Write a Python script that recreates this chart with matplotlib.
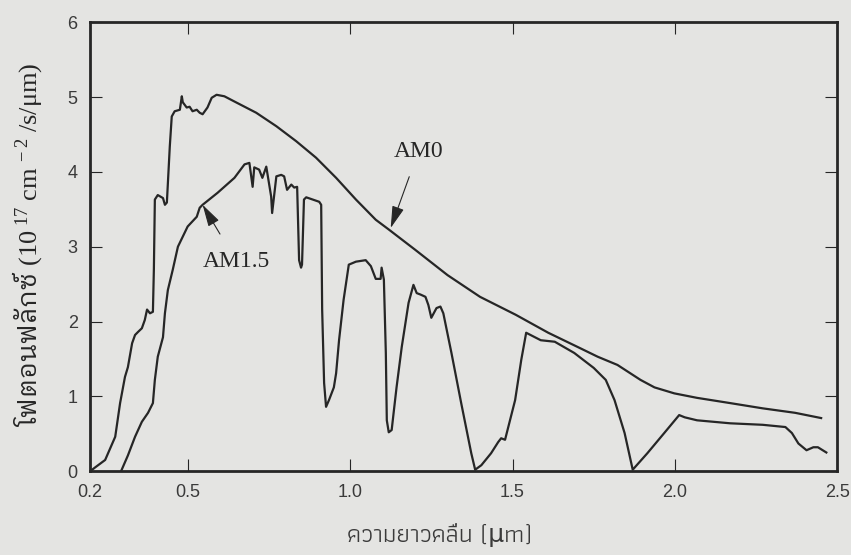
import matplotlib
matplotlib.use('Agg')
import matplotlib.pyplot as plt

# wavelength (um) / photon flux (1e17 cm^-2 s^-1 um^-1)
am0_x = [0.20, 0.215, 0.246, 0.277, 0.292, 0.307, 0.316, 0.329, 0.338, 0.347, 0.359, 0.368,
         0.375, 0.384, 0.393, 0.396, 0.399, 0.408, 0.424, 0.430, 0.436, 0.445, 0.451, 0.460,
         0.476, 0.482, 0.485, 0.497, 0.506, 0.515, 0.528, 0.537, 0.546, 0.561, 0.574, 0.589,
         0.613, 0.644, 0.711, 0.773, 0.834, 0.895, 0.957, 1.018, 1.079, 1.119, 1.20, 1.30,
         1.40, 1.51, 1.61, 1.71, 1.762, 1.823, 1.894, 1.937, 1.998, 2.068, 2.17, 2.27, 2.37, 2.45]
am0_y = [0.0, 0.05, 0.15, 0.46, 0.91, 1.26, 1.39, 1.71, 1.82, 1.86, 1.91, 2.02,
         2.16, 2.11, 2.13, 2.70, 3.63, 3.69, 3.65, 3.56, 3.59, 4.34, 4.74, 4.81,
         4.83, 5.01, 4.93, 4.86, 4.87, 4.81, 4.83, 4.79, 4.77, 4.86, 4.99, 5.03,
         5.01, 4.94, 4.79, 4.61, 4.41, 4.19, 3.92, 3.63, 3.36, 3.23, 2.96, 2.62,
         2.33, 2.09, 1.85, 1.64, 1.53, 1.42, 1.22, 1.12, 1.04, 0.98, 0.91, 0.84, 0.78, 0.71]

am15_x = [0.295, 0.30, 0.316, 0.338, 0.359, 0.378, 0.393, 0.399, 0.408, 0.424, 0.430, 0.439,
          0.454, 0.47, 0.50, 0.528, 0.537, 0.546, 0.592, 0.644, 0.675, 0.69, 0.70, 0.705,
          0.72, 0.73, 0.742, 0.757, 0.76, 0.773, 0.788, 0.797, 0.806, 0.819, 0.828, 0.837,
          0.843, 0.849, 0.852, 0.858, 0.865, 0.905, 0.911, 0.914, 0.92, 0.926, 0.935, 0.95,
          0.957, 0.966, 0.98, 0.996, 1.018, 1.048, 1.064, 1.079, 1.094, 1.097, 1.104, 1.11,
          1.113, 1.119, 1.128, 1.134, 1.143, 1.159, 1.18, 1.195, 1.205, 1.217, 1.232, 1.241,
          1.25, 1.266, 1.278, 1.287, 1.312, 1.342, 1.373, 1.385, 1.404, 1.434, 1.456, 1.465,
          1.477, 1.508, 1.527, 1.542, 1.569, 1.587, 1.63, 1.69, 1.75, 1.787, 1.814, 1.845,
          1.87, 1.915, 1.967, 2.013, 2.03, 2.068, 2.17, 2.27, 2.34, 2.36, 2.38, 2.405,
          2.426, 2.44, 2.466]
am15_y = [0.0, 0.05, 0.21, 0.46, 0.66, 0.78, 0.91, 1.22, 1.53, 1.79, 2.11, 2.42,
          2.69, 3.00, 3.27, 3.40, 3.52, 3.56, 3.72, 3.92, 4.10, 4.12, 3.80, 4.06,
          4.03, 3.92, 4.07, 3.67, 3.45, 3.94, 3.96, 3.94, 3.76, 3.83, 3.79, 3.80,
          2.82, 2.72, 2.76, 3.63, 3.66, 3.60, 3.56, 2.16, 1.18, 0.86, 0.95, 1.12,
          1.31, 1.75, 2.29, 2.76, 2.80, 2.82, 2.74, 2.57, 2.57, 2.72, 2.56, 1.58,
          0.68, 0.52, 0.55, 0.78, 1.12, 1.66, 2.25, 2.49, 2.38, 2.36, 2.33, 2.22,
          2.05, 2.18, 2.20, 2.11, 1.58, 0.91, 0.24, 0.02, 0.08, 0.24, 0.39, 0.44,
          0.42, 0.95, 1.49, 1.85, 1.79, 1.75, 1.73, 1.58, 1.38, 1.22, 0.95, 0.51,
          0.02, 0.24, 0.51, 0.75, 0.72, 0.68, 0.64, 0.62, 0.59, 0.51, 0.37, 0.28,
          0.32, 0.32, 0.25]

x_ticks = [0.2, 0.5, 1.0, 1.5, 2.0, 2.5]
x_labels = ['0.2', '0.5', '1.0', '1.5', '2.0', '2.5']
y_ticks = [0, 1, 2, 3, 4, 5, 6]

plt.rcParams['mathtext.fontset'] = 'custom'
plt.rcParams['mathtext.rm'] = 'Liberation Serif'
plt.rcParams['mathtext.it'] = 'Liberation Serif:italic'

bg = '#e4e4e2'
ink = '#262626'

fig = plt.figure(figsize=(8.51, 5.55), dpi=100, facecolor=bg)
ax = fig.add_axes([0.106, 0.151, 0.878, 0.809], facecolor=bg)

ax.plot(am0_x, am0_y, color=ink, lw=1.6)
ax.plot(am15_x, am15_y, color=ink, lw=1.6)

ax.set_xlim(0.2, 2.5)
ax.set_ylim(0, 6)
ax.set_xticks(x_ticks)
ax.set_xticklabels(x_labels)
ax.set_yticks(y_ticks)
ax.tick_params(direction='in', length=8.5, width=0.8, top=True, right=True,
               labelsize=13, colors=ink, labelcolor='#3a3a3a', pad=9)
for lab in ax.get_xticklabels() + ax.get_yticklabels():
    lab.set_family('Liberation Sans')
for s in ax.spines.values():
    s.set_linewidth(2.0)
    s.set_color(ink)

ax.annotate('AM0', xy=(1.125, 3.25), xytext=(1.21, 4.27), ha='center', va='center',
            fontsize=17, family='Liberation Serif', color=ink,
            arrowprops=dict(arrowstyle='-|>,head_length=0.8,head_width=0.22',
                            color=ink, lw=0.8, shrinkA=9, shrinkB=0))
ax.annotate('AM1.5', xy=(0.546, 3.56), xytext=(0.65, 2.80), ha='center', va='center',
            fontsize=17, family='Liberation Serif', color=ink,
            arrowprops=dict(arrowstyle='-|>,head_length=0.8,head_width=0.22',
                            color=ink, lw=0.8, shrinkA=12, shrinkB=0))

ax.set_xlabel('ความยาวคลื่น (μm)', family=['Athiti', 'IBM Plex Sans Thai', 'DejaVu Sans'],
              fontsize=18, color='#3a3a3a')
ax.xaxis.set_label_coords(0.468, -0.115)
ax.set_ylabel('โฟตอนฟลักซ์ ' + r'$\mathrm{(10^{\ 17}\ cm^{\ -2}\ /s/μm)}$',
              family=['IBM Plex Sans Thai Looped', 'IBM Plex Sans Thai', 'DejaVu Sans'],
              fontsize=19, color=ink)
ax.yaxis.set_label_coords(-0.062, 0.505)

fig.savefig('out.png', dpi=100, facecolor=bg)
